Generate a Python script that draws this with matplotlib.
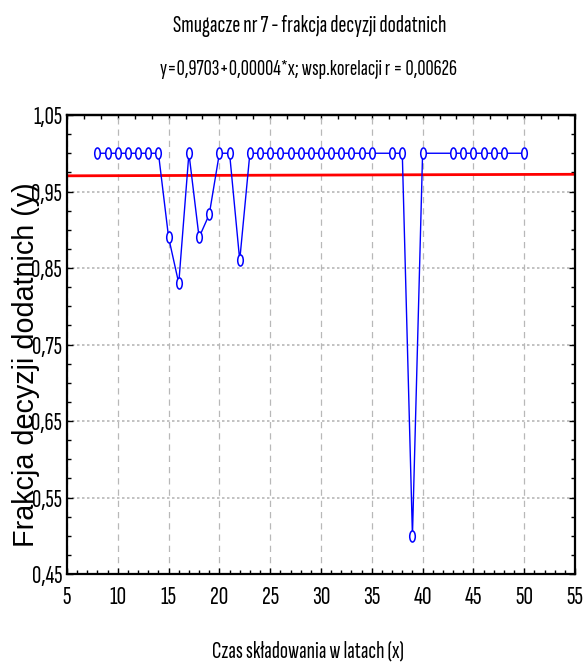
import matplotlib.pyplot as plt
from matplotlib.path import Path
from matplotlib.transforms import Affine2D
from matplotlib.ticker import MultipleLocator, FixedLocator, FuncFormatter, NullFormatter

NARROW = ['Sofia Sans Extra Condensed', 'Sofia Sans Condensed', 'Liberation Sans', 'DejaVu Sans']
plt.rcParams['font.family'] = NARROW

# storage time (years) and fraction of positive decisions
lata = [8, 9, 10, 11, 12, 13, 14, 15, 16, 17, 18, 19, 20, 21, 22,
        23, 24, 25, 26, 27, 28, 29, 30, 31, 32, 33, 34, 35,
        37, 38, 39, 40, 43, 44, 45, 46, 47, 48, 50]
frakcja = [1.0, 1.0, 1.0, 1.0, 1.0, 1.0, 1.0, 0.89, 0.83, 1.0, 0.89, 0.92, 1.0, 1.0, 0.86,
           1.0, 1.0, 1.0, 1.0, 1.0, 1.0, 1.0, 1.0, 1.0, 1.0, 1.0, 1.0, 1.0,
           1.0, 1.0, 0.5, 1.0, 1.0, 1.0, 1.0, 1.0, 1.0, 1.0, 1.0]

# regression line coefficients
a0 = 0.9703
a1 = 0.00004
x_range = [5, 55]
y_ticks = [0.45, 0.55, 0.65, 0.75, 0.85, 0.95, 1.05]

# tall narrow ellipse marker
elipsa = Path.unit_circle().transformed(Affine2D().scale(0.5, 1.0))

fig = plt.figure(figsize=(5.85, 6.64), dpi=100)
ax = fig.add_axes([67 / 585, 1 - 574 / 664, 508 / 585, 459 / 664])

ax.plot(lata, frakcja, color='blue', lw=1, marker=elipsa, markersize=8,
        markerfacecolor='white', markeredgecolor='blue', markeredgewidth=1.1, zorder=3)
ax.plot(x_range, [a0 + a1 * x for x in x_range], color='red', lw=2, zorder=2)

ax.set_xlim(5, 55)
ax.set_ylim(0.45, 1.05)
ax.xaxis.set_major_locator(MultipleLocator(5))
ax.xaxis.set_minor_locator(MultipleLocator(1))
ax.yaxis.set_major_locator(FixedLocator(y_ticks))
ax.yaxis.set_minor_locator(MultipleLocator(0.025))
ax.yaxis.set_major_formatter(FuncFormatter(lambda v, p: f'{v:.2f}'.replace('.', ',')))

ax.tick_params(which='both', direction='in', top=False, right=True, width=1)
ax.tick_params(which='major', length=4, labelsize=14)
ax.tick_params(which='minor', length=3)
ax.tick_params(axis='x', pad=9)
ax.tick_params(axis='y', pad=3.5)

# top axis carries its own tick spacing
top = ax.secondary_xaxis('top')
top.xaxis.set_major_locator(MultipleLocator(5))
top.xaxis.set_minor_locator(MultipleLocator(5 / 3))
top.xaxis.set_major_formatter(NullFormatter())
top.tick_params(which='both', direction='in', length=3, width=1)
top.spines['top'].set_linewidth(1.6)

ax.xaxis.grid(True, color='#b8b8b8', ls=(0, (5, 4)), lw=0.9)
ax.yaxis.grid(True, color='#b8b8b8', ls=(0, (1.5, 1.5)), lw=1.2)
for s in ax.spines.values():
    s.set_linewidth(1.6)

t1 = fig.text(310 / 585, 1 - 32 / 664, 'Smugacze nr 7 - frakcja decyzji dodatnich',
              ha='center', va='baseline', fontsize=14)
t2 = fig.text(309 / 585, 1 - 75 / 664, 'y=0,9703+0,00004*x; wsp.korelacji r = 0,00626',
              ha='center', va='baseline', fontsize=14)
t3 = fig.text(308 / 585, 1 - 657 / 664, 'Czas składowania w latach (x)',
              ha='center', va='baseline', fontsize=14)
ylab = fig.text(26 / 585, 1 - 365 / 664, 'Frakcja decyzji dodatnich (y)', ha='center', va='center',
                rotation=90, fontsize=20, family=['Liberation Sans', 'DejaVu Sans'])

# scale the texts to their widths in pixels
fig.canvas.draw()
r = fig.canvas.get_renderer()
for t, w in [(t1, 273), (t2, 297), (t3, 192)]:
    t.set_fontsize(t.get_fontsize() * w / t.get_window_extent(r).width)
ylab.set_fontsize(ylab.get_fontsize() * 364 / ylab.get_window_extent(r).height)
xl = [l for l in ax.get_xticklabels() if l.get_text() == '10'][0]
ax.tick_params(axis='x', labelsize=14 * 17 / xl.get_window_extent(r).width)
yl = [l for l in ax.get_yticklabels() if l.get_text() == '1,05'][0]
ax.tick_params(axis='y', labelsize=14 * 29 / yl.get_window_extent(r).width)

fig.savefig('out.png', dpi=100)
